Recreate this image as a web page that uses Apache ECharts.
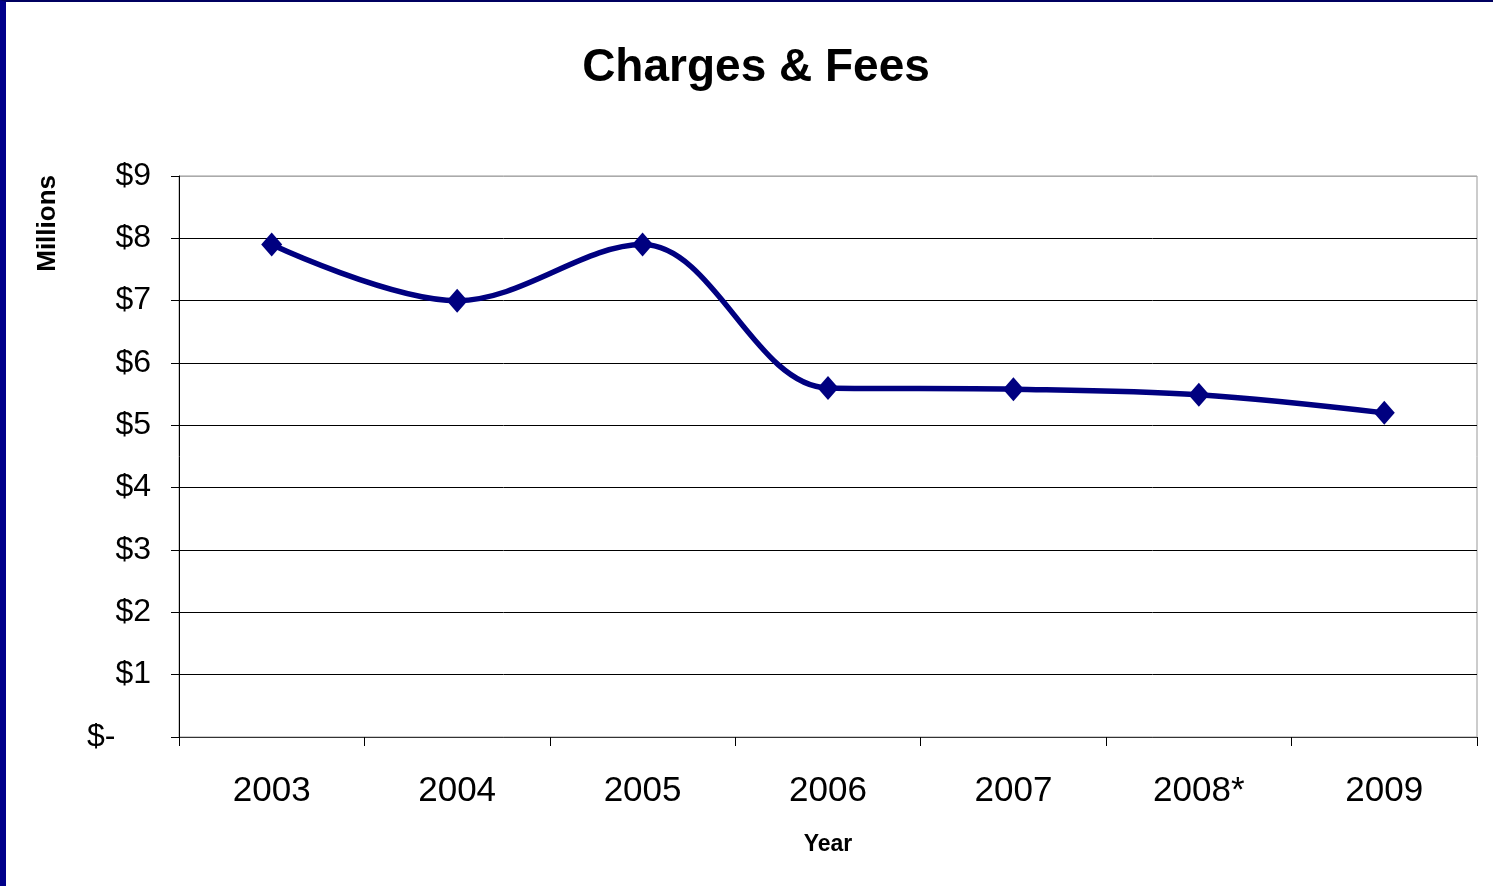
<!DOCTYPE html>
<html lang="en">
<head>
    <meta charset="UTF-8">
    <title>Charges & Fees</title>
    <style>
        html, body { margin: 0; padding: 0; background: #fff; }
        #frame { position: absolute; left: 0; top: 0; width: 1493px; height: 886px;
                 border-left: 6px solid #00008b; border-top: 2px solid #000060; box-sizing: border-box; }
        #main { position: absolute; left: 0; top: 0; width: 1493px; height: 886px; }
    </style>
</head>
<body>
<script src="https://cdn.jsdelivr.net/npm/echarts@6/dist/echarts.min.js"></script>
<div id="frame"></div>
<div id="main"></div>
<script type="text/javascript">

var years = ['2003', '2004', '2005', '2006', '2007', '2008*', '2009'];
var fees = [7.9, 7.0, 7.9, 5.6, 5.58, 5.49, 5.2];
var tickLabels = ['$-    ', '$1', '$2', '$3', '$4', '$5', '$6', '$7', '$8', '$9'];

var myChart = echarts.init(document.getElementById('main'));

myChart.setOption({
    animation: false,
    title: {
        text: 'Charges & Fees',
        left: 751,
        top: 40,
        textAlign: 'center',
        textStyle: { fontFamily: 'Liberation Sans', fontSize: 46, fontWeight: 'bold', color: '#000' }
    },
    graphic: [{
        type: 'text',
        left: 35,
        top: 175,
        rotation: Math.PI / 2,
        style: { text: 'Millions', fontFamily: 'Liberation Sans', fontSize: 26, fontWeight: 'bold', fill: '#000' }
    }],
    grid: { left: 179, right: 16, top: 176, bottom: 149, outerBoundsMode: 'none',
            show: true, borderColor: '#999', borderWidth: 1 },
    xAxis: {
        type: 'category',
        data: years,
        boundaryGap: true,
        name: 'Year',
        nameLocation: 'middle',
        nameGap: 96,
        nameTextStyle: { fontFamily: 'Liberation Sans', fontSize: 23, fontWeight: 'bold', color: '#000' },
        axisLine: { lineStyle: { color: '#333', width: 1 } },
        axisTick: { show: true, length: 9, lineStyle: { color: '#000' } },
        axisLabel: { fontFamily: 'Liberation Sans', fontSize: 35, color: '#000', margin: 37 },
        splitLine: { show: false }
    },
    yAxis: {
        type: 'value',
        min: 0,
        max: 9,
        interval: 1,
        axisLine: { show: true, lineStyle: { color: '#000', width: 1 } },
        axisTick: { show: true, length: 8, lineStyle: { color: '#000' } },
        axisLabel: {
            fontFamily: 'Liberation Sans', fontSize: 32, color: '#000', margin: 28,
            padding: [6, 0, 0, 0],
            formatter: function (v) { return tickLabels[Math.round(v)]; }
        },
        splitLine: { show: true, lineStyle: {
            color: ['#555', '#000', '#000', '#000', '#000', '#000', '#000', '#000', '#000', '#aaa'], width: 1 } }
    },
    series: [
        {
            type: 'line',
            data: fees,
            smooth: 0.35,
            symbol: 'diamond',
            symbolSize: [21, 24],
            lineStyle: { color: '#000080', width: 5.5 },
            itemStyle: { color: '#000080' }
        }
    ]
});
</script>
</body>
</html>
